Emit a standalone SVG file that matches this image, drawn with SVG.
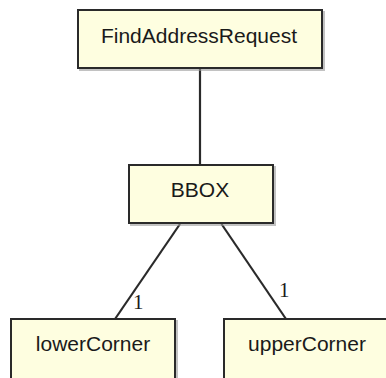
<svg xmlns="http://www.w3.org/2000/svg" width="386" height="378" viewBox="0 0 386 378">
<style>
.box{fill:#fefee0;stroke:#2a2a2a;stroke-width:2}
.shadow{fill:#9a9a9a;opacity:0.6}
.lbl{font-family:"Liberation Sans",Arial,sans-serif;font-size:21px;fill:#1a1a1a;text-anchor:middle}
.mult{font-family:"Liberation Serif","Times New Roman",serif;font-size:21px;fill:#1a1a1a}
.edge{stroke:#2a2a2a;stroke-width:2.2;fill:none}
</style>
<rect width="386" height="378" fill="#ffffff"/>
<g id="connectors">
<line class="edge" x1="200" y1="69" x2="200" y2="164"/>
<line class="edge" x1="180" y1="224" x2="115" y2="319"/>
<line class="edge" x1="221.5" y1="224" x2="286" y2="319"/>
<text class="mult" x="133" y="309">1</text>
<text class="mult" x="279" y="297">1</text>
</g>
<g id="FindAddressRequest">
<rect class="shadow" x="79" y="11" width="246" height="60"/>
<rect class="box" x="78" y="10" width="244" height="58"/>
<text class="lbl" x="199" y="43">FindAddressRequest</text>
</g>
<g id="BBOX">
<rect class="shadow" x="130" y="166" width="146" height="60"/>
<rect class="box" x="129" y="165" width="144" height="58"/>
<text class="lbl" x="200" y="197">BBOX</text>
</g>
<g id="lowerCorner">
<rect class="shadow" x="12" y="320" width="166" height="80"/>
<rect class="box" x="11" y="319" width="164" height="80"/>
<text class="lbl" x="93" y="351">lowerCorner</text>
</g>
<g id="upperCorner">
<rect class="shadow" x="225" y="320" width="200" height="80"/>
<rect class="box" x="224" y="319" width="200" height="80"/>
<text class="lbl" x="307" y="351">upperCorner</text>
</g>
</svg>
